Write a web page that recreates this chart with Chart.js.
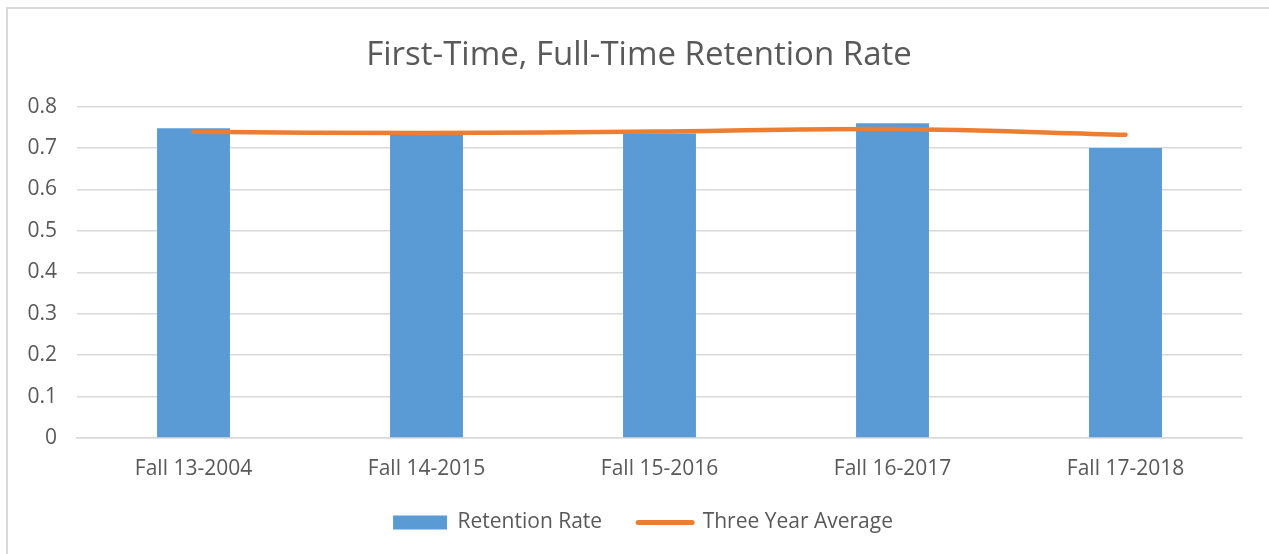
<!DOCTYPE html>
<html><head><meta charset="utf-8">
<script src="https://cdn.jsdelivr.net/npm/chart.js@4/dist/chart.umd.min.js"></script>
<style>html,body{margin:0;padding:0;background:#fff}#wrap{position:absolute;left:0;top:0;width:1269px;height:554px}</style>
</head><body><div id="wrap"><canvas id="c" width="1269" height="554"></canvas></div>
<script>
const categories = ["Fall 13-2004","Fall 14-2015","Fall 15-2016","Fall 16-2017","Fall 17-2018"];
const retentionRate = [0.748, 0.735, 0.735, 0.76, 0.70];
const threeYearAverage = [0.739, 0.736, 0.740, 0.746, 0.732];
const yTicks = [0,0.1,0.2,0.3,0.4,0.5,0.6,0.7,0.8];

const FONT = "'Open Sans', sans-serif";
const GREY = '#595959';

const borderPlugin = {
  id:'border',
  beforeDraw(chart){
    const ctx = chart.ctx;
    ctx.save();
    ctx.fillStyle='#fff';ctx.fillRect(0,0,chart.width,chart.height);
    ctx.strokeStyle='#d9d9d9';ctx.lineWidth=2;
    ctx.beginPath();ctx.moveTo(7,554);ctx.lineTo(7,8);ctx.lineTo(1269,8);ctx.stroke();
    ctx.restore();
  }
};
const shiftPlugin = {
  id:'shift',
  afterLayout(chart){
    if (chart.legend){chart.legend.left += 17; chart.legend.right += 17;}
    if (chart.titleBlock){chart.titleBlock.left += 13; chart.titleBlock.right += 13;}
  }
};

new Chart(document.getElementById('c'), {
  data:{
    labels:categories,
    datasets:[
      {type:'line',label:'Three Year Average',data:threeYearAverage,borderColor:'#ED7D31',backgroundColor:'#ED7D31',borderWidth:4.5,pointRadius:0,tension:0.35,borderCapStyle:'round',order:0},
      {type:'bar',label:'Retention Rate',data:retentionRate,backgroundColor:'#5B9BD5',categoryPercentage:1,barPercentage:0.313,order:1}
    ]
  },
  plugins:[borderPlugin, shiftPlugin],
  options:{
    responsive:false,animation:false,
    layout:{padding:{left:10,right:27,top:10,bottom:11}},
    plugins:{
      title:{display:true,text:'First-Time, Full-Time Retention Rate',color:GREY,font:{family:FONT,size:33,weight:'normal'},padding:{top:26,bottom:31}},
      tooltip:{enabled:false},
      legend:{position:'bottom',
        labels:{color:GREY,font:{family:FONT,size:21},usePointStyle:true,pointStyleWidth:54,boxHeight:14,padding:36,
          generateLabels(chart){
            return [
              {text:'Retention Rate',fillStyle:'#5B9BD5',strokeStyle:'#5B9BD5',lineWidth:0,pointStyle:'rect',datasetIndex:1,fontColor:GREY},
              {text:'Three Year Average',fillStyle:'#ED7D31',strokeStyle:'#ED7D31',lineWidth:5,lineCap:'round',pointStyle:'line',datasetIndex:0,fontColor:GREY}
            ];
          }
        }
      }
    },
    scales:{
      x:{grid:{display:false,drawTicks:false},border:{color:'#d9d9d9',width:1.5},
        afterFit(ax){ax.height=38;},
        ticks:{color:GREY,font:{family:FONT,size:21},padding:18}},
      y:{min:0,max:0.8,afterBuildTicks(ax){ax.ticks=yTicks.map(v=>({value:v}));},
        afterFit(ax){ax.width=67;},
        grid:{color:'#d9d9d9',lineWidth:1.5,drawTicks:false},border:{display:false},
        ticks:{color:GREY,font:{family:FONT,size:21},padding:20,callback:v=>String(Math.round(v*10)/10)}}
    }
  }
});
</script></body></html>
